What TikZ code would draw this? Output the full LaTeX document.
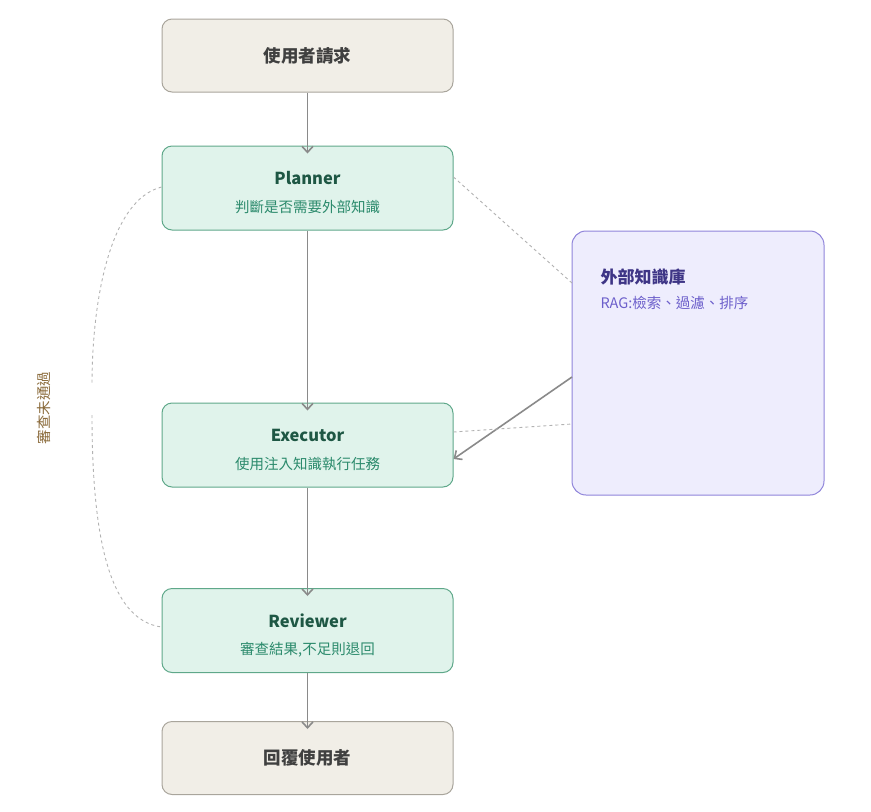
\documentclass[tikz,border=0pt]{standalone}
\usepackage{fontspec}
\setmainfont{Noto Sans CJK TC}
\usetikzlibrary{arrows.meta}
\definecolor{gbox}{HTML}{F1EEE7}
\definecolor{gline}{HTML}{A9A59C}
\definecolor{tbox}{HTML}{E0F3EB}
\definecolor{tline}{HTML}{5FA88A}
\definecolor{ttitle}{HTML}{1E5744}
\definecolor{tsub}{HTML}{2B8A6C}
\definecolor{pbox}{HTML}{EEEDFD}
\definecolor{pline}{HTML}{8F84DA}
\definecolor{ptitle}{HTML}{3E3586}
\definecolor{psub}{HTML}{6C5FCB}
\definecolor{arr}{HTML}{8A8A8A}
\definecolor{lab}{HTML}{8A6A3A}
\begin{document}
\begin{tikzpicture}[x=1pt,y=-1pt,
  gray box/.style={draw=gline,line width=1pt,fill=gbox,rounded corners=10pt,minimum width=291pt,minimum height=73pt,font=\fontsize{17.5}{20}\selectfont\bfseries,text=black!75},
  agent/.style={draw=tline,line width=1pt,fill=tbox,rounded corners=10pt,minimum width=291pt,minimum height=84pt,align=center},
  ttl/.style={font=\fontsize{16.5}{19}\selectfont\bfseries,text=ttitle},
  sub/.style={font=\fontsize{14.5}{17}\selectfont,text=tsub},
  conn/.style={draw=arr,line width=1.6pt,-{Straight Barb[length=6pt,width=11pt]}},
  dashln/.style={draw=black!30,dashed,line width=0.9pt}]
\useasboundingbox (0,0) rectangle (871,812);
\node[gray box] (req) at (307.5,55.5) {使用者請求};
\node[agent] (plan) at (307.5,188) {};
\node[ttl] at (307.5,178) {Planner};
\node[sub] at (307.5,207) {判斷是否需要外部知識};
\node[agent] (exec) at (307.5,445) {};
\node[ttl] at (307.5,435) {Executor};
\node[sub] at (307.5,464) {使用注入知識執行任務};
\node[agent] (rev) at (307.5,630.5) {};
\node[ttl] at (307.5,621) {Reviewer};
\node[sub] at (307.5,650) {審查結果,不足則退回};
\node[gray box] (ans) at (307.5,758) {回覆使用者};
\node[draw=pline,line width=1pt,fill=pbox,rounded corners=14pt,minimum width=252pt,minimum height=264pt] (kb) at (698,363) {};
\node[anchor=west,font=\fontsize{17}{20}\selectfont\bfseries,text=ptitle] at (597,277) {外部知識庫};
\node[anchor=west,font=\fontsize{14.5}{17}\selectfont,text=psub] at (597,303) {RAG:檢索、過濾、排序};
\draw[conn] (req.south) -- ([yshift=-8pt]plan.north);
\draw[conn] (plan.south) -- ([yshift=-8pt]exec.north);
\draw[conn] (exec.south) -- ([yshift=-8pt]rev.north);
\draw[conn] (rev.south) -- ([yshift=-8pt]ans.north);
\coordinate (k1) at (572,377);
\draw[conn] (k1) -- (exec.east |- 0,459);
\draw[dashln] (plan.east |- 0,177) -- (572,283);
\draw[dashln] (exec.east |- 0,432) -- (572,424);
\coordinate (m1) at (92,385);
\coordinate (m2) at (92,415);
\draw[dashln] (plan.west |- 0,187) .. controls (110,200) and (92,300) .. (m1);
\draw[dashln] (m2) .. controls (92,540) and (110,620) .. (rev.west |- 0,627);
\node[rotate=90,font=\fontsize{14.5}{17}\selectfont,text=lab] (lbl) at (44,408) {審查未通過};
\end{tikzpicture}
\end{document}
